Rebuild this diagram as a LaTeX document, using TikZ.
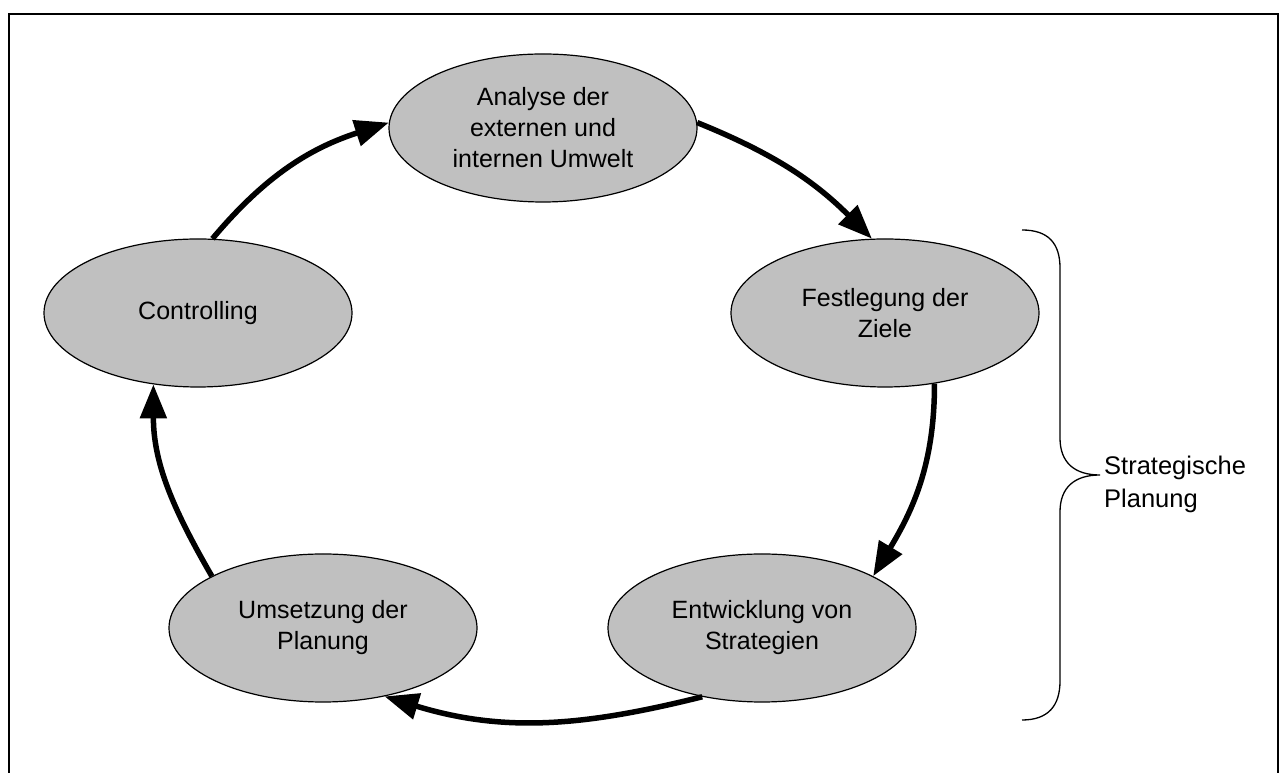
\documentclass[tikz,border=0pt]{standalone}
\usepackage{fontspec}
\setmainfont{Liberation Sans}
\usetikzlibrary{shapes.geometric,arrows.meta}
\definecolor{ellgray}{RGB}{192,192,192}
\begin{document}
\begin{tikzpicture}[x=1pt,y=1pt,
  phase/.style={ellipse, draw=black, line width=1.2pt, fill=ellgray,
    minimum width=308pt, minimum height=148pt, inner sep=0pt,
    align=center, font=\fontsize{25}{31}\selectfont},
  flow/.style={line width=5.5pt, -{Triangle[length=34pt,width=26pt]}},
  bracestyle/.style={line width=1.3pt},
]
\useasboundingbox (0,0) rectangle (1280,773);
\draw[line width=2.5pt] (9,-10) -- (9,759) -- (1278,759) -- (1278,-10);

\node[phase] (A) at (543,645) {Analyse der\\externen und\\internen Umwelt};
\node[phase] (C) at (198,460) {Controlling};
\node[phase] (F) at (885,460) {Festlegung der\\Ziele};
\node[phase] (E) at (762,145) {Entwicklung von\\Strategien};
\node[phase] (U) at (323,145) {Umsetzung der\\Planung};

\draw[flow] (C.79) to[out=50,in=198] (A.178);
\draw[flow] (A.2) to[out=-22,in=135] (F.100);
\draw[flow] (F.-55) to[out=-90,in=59] (E.25);
\draw[flow] (E.-131) to[out=194,in=-17] (U.-48);
\draw[flow] (U.155) to[out=120,in=-90] (C.-122);

\draw[bracestyle] (1022,543) .. controls (1048,543) and (1060,530) .. (1060,505)
  -- (1060,335) .. controls (1060,310) and (1075,298) .. (1100,298)
  .. controls (1075,298) and (1060,286) .. (1060,261)
  -- (1060,92) .. controls (1060,67) and (1048,53) .. (1022,53);
\node[anchor=west, align=left, inner sep=0pt, font=\fontsize{25.5}{33}\selectfont] (lbl) at (1104,289) {Strategische\\Planung};
\end{tikzpicture}
\end{document}
